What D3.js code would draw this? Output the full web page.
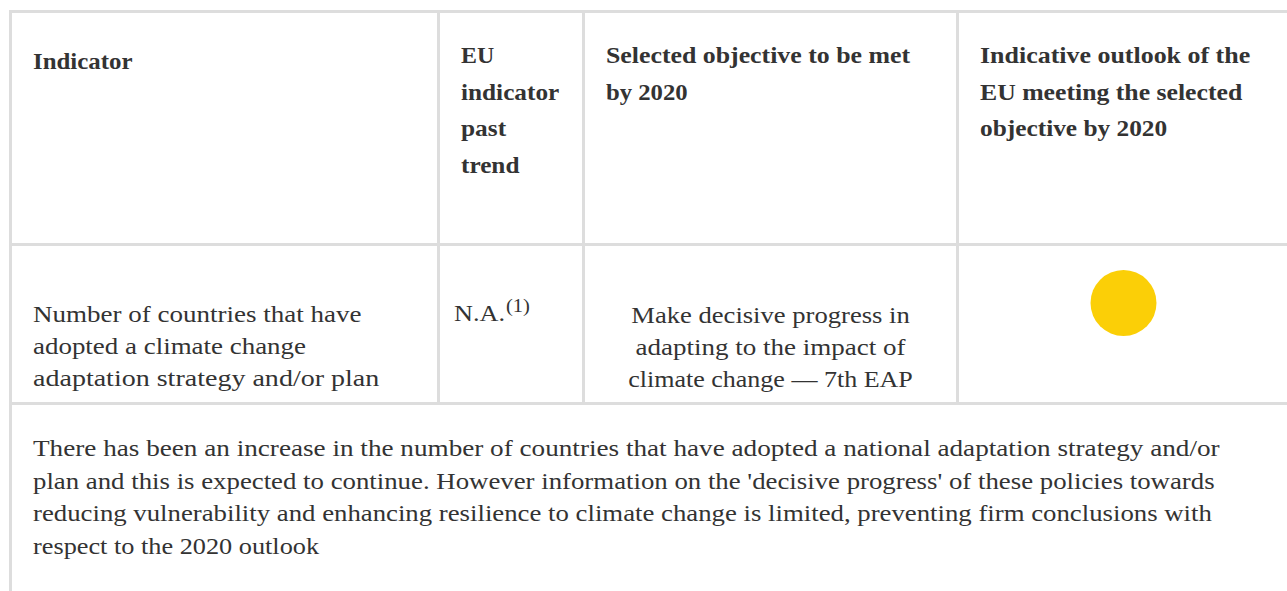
<!DOCTYPE html>
<html>
<head>
<meta charset="utf-8">
<script src="https://cdn.jsdelivr.net/npm/d3@7"></script>
<style>
  html, body { margin: 0; padding: 0; background: #fff; }
  svg { display: block; }
</style>
</head>
<body>
<svg id="chart" width="1287" height="591"></svg>
<script>
// ---- data ----
const columnKeys = ["indicator", "trend", "objective", "outlook"];
const headerLines = [
  ["Indicator"],
  ["EU", "indicator", "past", "trend"],
  ["Selected objective to be met", "by 2020"],
  ["Indicative outlook of the", "EU meeting the selected", "objective by 2020"]
];
const indicatorLines = ["Number of countries that have", "adopted a climate change", "adaptation strategy and/or plan"];
const trendValue = "N.A.";
const trendNote = "(1)";
const objectiveLines = ["Make decisive progress in", "adapting to the impact of", "climate change \u2014 7th EAP"];
const outlookStatus = ["amber"];
const statusColors = { amber: "#fbcf07" };
const noteLines = [
  "There has been an increase in the number of countries that have adopted a national adaptation strategy and/or",
  "plan and this is expected to continue. However information on the 'decisive progress' of these policies towards",
  "reducing vulnerability and enhancing resilience to climate change is limited, preventing firm conclusions with",
  "respect to the 2020 outlook"
];

// ---- Palatino-like advance widths (per 1000 em) used to set line lengths ----
const palRegular = {" ":250,"'":208,"(":333,")":333,",":250,".":250,"/":606,"\u2014":1000,
  "0":500,"1":500,"2":500,"7":500,"A":778,"E":611,"H":832,"M":946,"N":831,"P":604,"T":613,
  a:500,b:553,c:444,d:611,e:479,f:333,g:556,h:582,i:291,j:234,k:556,l:291,m:883,n:582,o:546,
  p:601,q:560,r:395,s:424,t:326,u:603,v:565,w:834,x:516,y:556,z:500};
const palBold = {" ":250,"0":500,"2":500,"E":611,"I":389,"S":611,"U":778,
  a:500,b:611,c:444,d:611,e:500,f:389,g:556,h:611,i:333,j:333,k:611,l:333,m:889,n:611,o:556,
  p:611,q:611,r:389,s:444,t:333,u:611,v:556,w:833,x:500,y:556,z:500};
function palWidth(str, bold, size) {
  const tbl = bold ? palBold : palRegular;
  let s = 0;
  for (const ch of str) s += (tbl[ch] !== undefined ? tbl[ch] : 500);
  return s * size / 1000;
}

// ---- layout ----
const W = 1287, H = 591;
const svg = d3.select("#chart");
const border = "#dddddd";
const textColor = "#333333";
const font = "'Liberation Serif', 'Times New Roman', serif";
const fs = 24;          // rendered glyph size
const setReg = 24.2;    // set width size for regular text
const setBold = 23.9;   // set width size for bold text

const colWidths = [428, 145, 374, 332];
const edges = [9];
colWidths.forEach(w => edges.push(edges[edges.length - 1] + w));
const x = d3.scaleOrdinal().domain(columnKeys).range(edges.slice(0, 4));
const xEnd = d3.scaleOrdinal().domain(columnKeys).range(edges.slice(1));
const rowEdges = [10, 243, 402];
const bw = 3;
const pad = 21;

// borders
const g = svg.append("g");
rowEdges.forEach(y => {
  g.append("rect").attr("x", edges[0]).attr("y", y).attr("width", edges[4] - edges[0] + bw).attr("height", bw).attr("fill", border);
});
[edges[0], edges[4]].forEach(ex => {
  g.append("rect").attr("x", ex).attr("y", rowEdges[0]).attr("width", bw).attr("height", H).attr("fill", border);
});
edges.slice(1, 4).forEach(ex => {
  g.append("rect").attr("x", ex).attr("y", rowEdges[0]).attr("width", bw).attr("height", rowEdges[2] - rowEdges[0]).attr("fill", border);
});

// multi-line text block; align "start" or "middle"
function block(lines, ax, y0, lh, bold, align) {
  const t = svg.append("text")
    .attr("font-family", font).attr("font-size", fs)
    .attr("font-weight", bold ? "bold" : "normal")
    .attr("fill", textColor);
  lines.forEach((ln, j) => {
    const w = palWidth(ln, bold, bold ? setBold : setReg);
    const sx = align === "middle" ? ax - w / 2 : ax;
    t.append("tspan").attr("x", sx).attr("y", y0 + j * lh)
      .attr("textLength", w).attr("lengthAdjust", "spacingAndGlyphs").text(ln);
  });
  return t;
}

// header
headerLines.forEach((lines, i) => {
  const key = columnKeys[i];
  block(lines, x(key) + bw + pad, i === 0 ? 69 : 63, 36.7, true, "start");
});

// body row
const bodyLH = 32;
block(indicatorLines, x("indicator") + bw + pad, 322, bodyLH, false, "start");

const trendX = x("trend") + bw + 14;
const wNA = palWidth(trendValue, false, setReg);
const tTrend = svg.append("text").attr("font-family", font).attr("font-size", fs).attr("fill", textColor);
tTrend.append("tspan").attr("x", trendX).attr("y", 321)
  .attr("textLength", wNA).attr("lengthAdjust", "spacingAndGlyphs").text(trendValue);
tTrend.append("tspan").attr("x", trendX + wNA + 1).attr("y", 312).attr("font-size", 19)
  .attr("textLength", palWidth(trendNote, false, 20.5)).attr("lengthAdjust", "spacingAndGlyphs").text(trendNote);

const objCenter = (x("objective") + bw + xEnd("objective")) / 2;
block(objectiveLines, objCenter, 323, bodyLH, false, "middle");

const outCenter = (x("outlook") + bw + xEnd("outlook")) / 2;
svg.selectAll("circle.status").data(outlookStatus).join("circle")
  .attr("class", "status")
  .attr("cx", outCenter).attr("cy", 303).attr("r", 33)
  .attr("fill", d => statusColors[d]);

// note paragraph
block(noteLines, x("indicator") + bw + pad, 456, 32.5, false, "start");
</script>
</body>
</html>
